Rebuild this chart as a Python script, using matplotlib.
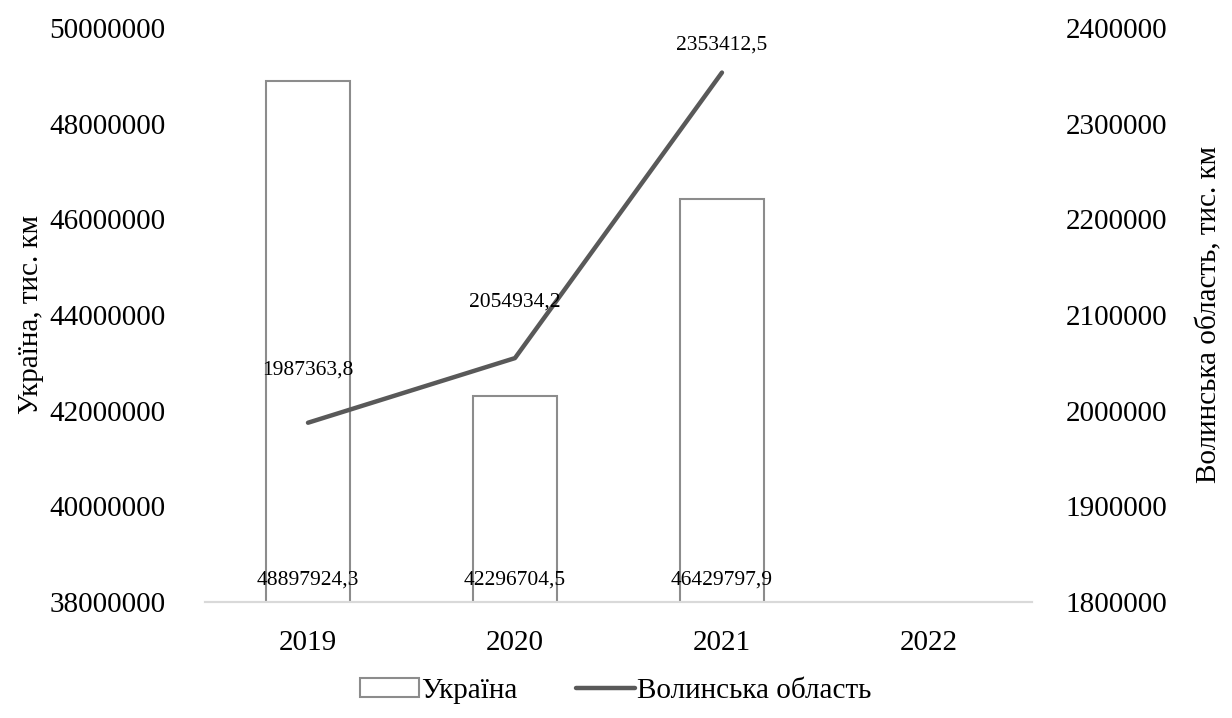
import matplotlib.pyplot as plt
import numpy as np

plt.rcParams['font.family'] = ['Liberation Serif', 'DejaVu Serif']

years = ['2019', '2020', '2021', '2022']
ukraine = [48897924.3, 42296704.5, 46429797.9]          # Україна, тис. км
volyn = [1987363.8, 2054934.2, 2353412.5]               # Волинська область, тис. км
left_ticks = [38000000, 40000000, 42000000, 44000000, 46000000, 48000000, 50000000]
right_ticks = [1800000, 1900000, 2000000, 2100000, 2200000, 2300000, 2400000]

def fmt(v):
    return ('%.1f' % v).replace('.', ',')

fig = plt.figure(figsize=(12.32, 7.18), dpi=100)
ax = fig.add_axes([0.166, 0.1616, 0.672, 0.7994])
ax2 = ax.twinx()

x = np.arange(len(years))
xb = x[:len(ukraine)]
bars = ax.bar(xb, ukraine, width=0.41, color='white', edgecolor='#8c8c8c',
              linewidth=1.5, label='Україна', zorder=2)
ax.set_ylim(left_ticks[0], left_ticks[-1])
ax.set_yticks(left_ticks)
ax.set_yticklabels([str(t) for t in left_ticks])
ax.set_xlim(-0.5, len(years) - 0.5)
ax.set_xticks(x)
ax.set_xticklabels(years)

# підписи стовпців біля основи
for xi, v in zip(xb, ukraine):
    ax.annotate(fmt(v), (xi, left_ticks[0]), xytext=(0, 12), textcoords='offset pixels',
                ha='center', va='bottom', fontsize=15.5)

line, = ax2.plot(xb, volyn, color='#595959', linewidth=3.2, label='Волинська область',
                 solid_capstyle='round', zorder=3)
ax2.set_ylim(right_ticks[0], right_ticks[-1])
ax2.set_yticks(right_ticks)
ax2.set_yticklabels([str(t) for t in right_ticks])

offsets = [53, 56, 28]
for xi, v, dy in zip(xb, volyn, offsets):
    ax2.annotate(fmt(v), (xi, v), xytext=(0, dy), textcoords='offset pixels',
                 ha='center', va='center', fontsize=15.5)

for a in (ax, ax2):
    for s in ('top', 'left', 'right'):
        a.spines[s].set_visible(False)
    a.spines['bottom'].set_color('#d9d9d9')
    a.spines['bottom'].set_linewidth(1.5)
    a.tick_params(length=0, labelsize=21)
ax.tick_params(axis='y', pad=28)
ax.tick_params(axis='x', pad=20)
ax2.tick_params(axis='y', pad=24)

ax.set_ylabel('Україна, тис. км', fontsize=21)
ax.yaxis.set_label_coords(-0.194, 0.5)
ax2.set_ylabel('Волинська область, тис. км', fontsize=21)
ax2.yaxis.set_label_coords(1.198, 0.5)

fig.legend(handles=[bars, line], labels=['Україна', 'Волинська область'],
           loc='center', bbox_to_anchor=(0.5, 0.038), ncol=2, frameon=False,
           fontsize=21, handlelength=2.0, handleheight=0.6, handletextpad=0.1,
           columnspacing=2.0)

fig.savefig('out.png', dpi=100)
